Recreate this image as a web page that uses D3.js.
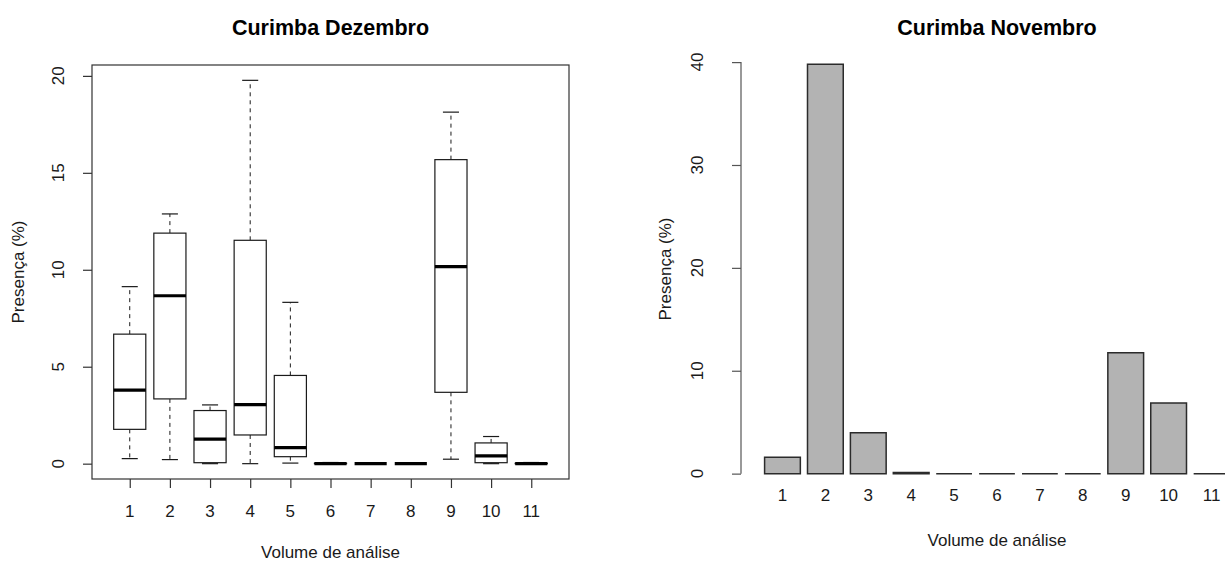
<!DOCTYPE html>
<html>
<head>
<meta charset="utf-8">
<script src="https://cdn.jsdelivr.net/npm/d3@7"></script>
<style>
  body { margin: 0; background: #fff; }
  svg { display: block; font-family: "Liberation Sans", Arial, sans-serif; }
</style>
</head>
<body>
<div id="chart"></div>
<script>
// == data ==
// left: boxplot, December
var boxLabels = ["1", "2", "3", "4", "5", "6", "7", "8", "9", "10", "11"];
var boxLow  = [0.26, 0.21, 0.00, 0.00, 0.03, 0.00, 0, 0, 0.23, 0.00, 0.00];
var boxQ1   = [1.77, 3.34, 0.05, 1.48, 0.36, 0.00, 0, 0, 3.68, 0.05, 0.00];
var boxMed  = [3.79, 8.66, 1.27, 3.05, 0.83, 0.00, 0, 0, 10.16, 0.40, 0.00];
var boxQ3   = [6.68, 11.89, 2.74, 11.52, 4.55, 0.02, 0, 0, 15.68, 1.07, 0.02];
var boxHigh = [9.13, 12.88, 3.03, 19.77, 8.32, 0.06, 0, 0, 18.13, 1.40, 0.06];
var leftTicks = [0, 5, 10, 15, 20];

// right: barplot, November
var barLabels = ["1", "2", "3", "4", "5", "6", "7", "8", "9", "10", "11"];
var barValues = [1.58, 39.78, 3.98, 0.1, 0, 0, 0, 0, 11.75, 6.86, 0];
var rightTicks = [0, 10, 20, 30, 40];

var W = 1225, H = 561;
var ink = "#1a1a1a";
var fs = 17; // axis text size

var svg = d3.select("#chart").append("svg")
	.attr("width", W).attr("height", H);
svg.append("rect").attr("width", W).attr("height", H).attr("fill", "#fff");

// R style 4% padding on a domain
function pad(lo, hi) {
	var r = hi - lo;
	return [lo - 0.04 * r, hi + 0.04 * r];
}

// ===== LEFT: boxplot =====
var L = { left: 92, right: 569, top: 65, bottom: 479 };
var lx = d3.scaleLinear().domain(pad(0.5, 11.5)).range([L.left, L.right]);
var ly = d3.scaleLinear().domain(pad(d3.min(boxLow), d3.max(boxHigh))).range([L.bottom, L.top]);

var gl = svg.append("g");
var unit = lx(1) - lx(0);
var bw = 0.8 * unit, cw = 0.4 * unit;

var boxes = gl.selectAll("g.box")
	.data(boxLabels.map(function (d, i) {
		return { k: i + 1, lo: boxLow[i], q1: boxQ1[i], med: boxMed[i], q3: boxQ3[i], hi: boxHigh[i] };
	}))
	.enter().append("g").attr("class", "box");

// whiskers (dashed)
boxes.append("line")
	.attr("x1", function (d) { return lx(d.k); }).attr("x2", function (d) { return lx(d.k); })
	.attr("y1", function (d) { return ly(d.q3); }).attr("y2", function (d) { return ly(d.hi); })
	.attr("stroke", ink).attr("stroke-dasharray", "4,4");
boxes.append("line")
	.attr("x1", function (d) { return lx(d.k); }).attr("x2", function (d) { return lx(d.k); })
	.attr("y1", function (d) { return ly(d.q1); }).attr("y2", function (d) { return ly(d.lo); })
	.attr("stroke", ink).attr("stroke-dasharray", "4,4");
// staples
["hi", "lo"].forEach(function (key) {
	boxes.append("line")
		.attr("x1", function (d) { return lx(d.k) - cw / 2; })
		.attr("x2", function (d) { return lx(d.k) + cw / 2; })
		.attr("y1", function (d) { return ly(d[key]); })
		.attr("y2", function (d) { return ly(d[key]); })
		.attr("stroke", ink).attr("stroke-width", 1.2);
});
// box
boxes.append("rect")
	.attr("x", function (d) { return lx(d.k) - bw / 2; })
	.attr("width", bw)
	.attr("y", function (d) { return ly(d.q3); })
	.attr("height", function (d) { return ly(d.q1) - ly(d.q3); })
	.attr("fill", "#fff").attr("stroke", ink).attr("stroke-width", 1.2);
// median
boxes.append("line")
	.attr("x1", function (d) { return lx(d.k) - bw / 2; })
	.attr("x2", function (d) { return lx(d.k) + bw / 2; })
	.attr("y1", function (d) { return ly(d.med); })
	.attr("y2", function (d) { return ly(d.med); })
	.attr("stroke", "#000").attr("stroke-width", 3.2);

// frame
gl.append("rect")
	.attr("x", L.left).attr("y", L.top)
	.attr("width", L.right - L.left).attr("height", L.bottom - L.top)
	.attr("fill", "none").attr("stroke", "#333").attr("stroke-width", 1.2);

// y axis
var yAxL = gl.append("g").attr("transform", "translate(" + L.left + ",0)")
	.call(d3.axisLeft(ly).tickValues(leftTicks).tickSize(9).tickFormat(""));
yAxL.select(".domain").remove();
yAxL.selectAll("line").attr("stroke", "#333").attr("stroke-width", 1.2);
gl.selectAll("text.ytl").data(leftTicks).enter().append("text")
	.attr("class", "ytl")
	.attr("transform", function (d) { return "translate(64," + ly(d) + ") rotate(-90)"; })
	.attr("text-anchor", "middle").attr("font-size", fs).attr("fill", ink)
	.text(function (d) { return d; });

// x axis
var xAxL = gl.append("g").attr("transform", "translate(0," + L.bottom + ")")
	.call(d3.axisBottom(lx).tickValues(d3.range(1, 12)).tickSize(9).tickFormat(""));
xAxL.select(".domain").remove();
xAxL.selectAll("line").attr("stroke", "#333").attr("stroke-width", 1.2);
gl.selectAll("text.xtl").data(boxLabels).enter().append("text")
	.attr("class", "xtl")
	.attr("x", function (d, i) { return lx(i + 1); }).attr("y", 517)
	.attr("text-anchor", "middle").attr("font-size", fs).attr("fill", ink)
	.text(function (d) { return d; });

gl.append("text").attr("x", (L.left + L.right) / 2).attr("y", 35)
	.attr("text-anchor", "middle").attr("font-size", 21.5).attr("font-weight", "bold")
	.attr("fill", "#000").text("Curimba Dezembro");
gl.append("text").attr("x", (L.left + L.right) / 2).attr("y", 558)
	.attr("text-anchor", "middle").attr("font-size", fs).attr("fill", ink)
	.text("Volume de análise");
gl.append("text")
	.attr("transform", "translate(24," + (L.top + L.bottom) / 2 + ") rotate(-90)")
	.attr("text-anchor", "middle").attr("font-size", fs).attr("fill", ink)
	.text("Presença (%)");

// ===== RIGHT: barplot =====
// plot region runs off the right edge of the picture, like the original
var R = { axis: 741, left: 746, right: 1248, top: 48, bottom: 490 };
var n = barValues.length;
var rx = d3.scaleLinear().domain(pad(0.2, n * 1.2)).range([R.left, R.right]);
var ry = d3.scaleLinear().domain(pad(0, d3.max(barValues))).range([R.bottom, R.top]);

var gr = svg.append("g");
// paths so that zero-height bars still show their outline
gr.selectAll("path.bar").data(barValues).enter().append("path")
	.attr("class", "bar")
	.attr("d", function (d, i) {
		var x0 = rx(0.2 + i * 1.2), x1 = rx(1.2 + i * 1.2);
		var y0 = ry(0), y1 = ry(d);
		return "M" + x0 + "," + y0 + "H" + x1 + "V" + y1 + "H" + x0 + "Z";
	})
	.attr("fill", "#b3b3b3").attr("stroke", "#2b2b2b").attr("stroke-width", 1.5);

var yAxR = gr.append("g").attr("transform", "translate(" + R.axis + ",0)")
	.call(d3.axisLeft(ry).tickValues(rightTicks).tickSize(9).tickFormat(""));
yAxR.select(".domain").remove();
yAxR.selectAll("line").attr("stroke", "#555").attr("stroke-width", 1.2);
gr.append("line")
	.attr("x1", R.axis).attr("x2", R.axis)
	.attr("y1", ry(0)).attr("y2", ry(40))
	.attr("stroke", "#555").attr("stroke-width", 1.2);
gr.selectAll("text.ytl").data(rightTicks).enter().append("text")
	.attr("class", "ytl")
	.attr("transform", function (d) { return "translate(703," + ry(d) + ") rotate(-90)"; })
	.attr("text-anchor", "middle").attr("font-size", fs).attr("fill", ink)
	.text(function (d) { return d; });

gr.selectAll("text.xtl").data(barLabels).enter().append("text")
	.attr("class", "xtl")
	.attr("x", function (d, i) { return rx(0.7 + i * 1.2); }).attr("y", 501)
	.attr("text-anchor", "middle").attr("font-size", fs).attr("fill", ink)
	.text(function (d) { return d; });

var rc = (R.left + R.right) / 2;
gr.append("text").attr("x", rc).attr("y", 35)
	.attr("text-anchor", "middle").attr("font-size", 21.5).attr("font-weight", "bold")
	.attr("fill", "#000").text("Curimba Novembro");
gr.append("text").attr("x", rc).attr("y", 546)
	.attr("text-anchor", "middle").attr("font-size", fs).attr("fill", ink)
	.text("Volume de análise");
gr.append("text")
	.attr("transform", "translate(671," + (R.top + R.bottom) / 2 + ") rotate(-90)")
	.attr("text-anchor", "middle").attr("font-size", fs).attr("fill", ink)
	.text("Presença (%)");
</script>
</body>
</html>
